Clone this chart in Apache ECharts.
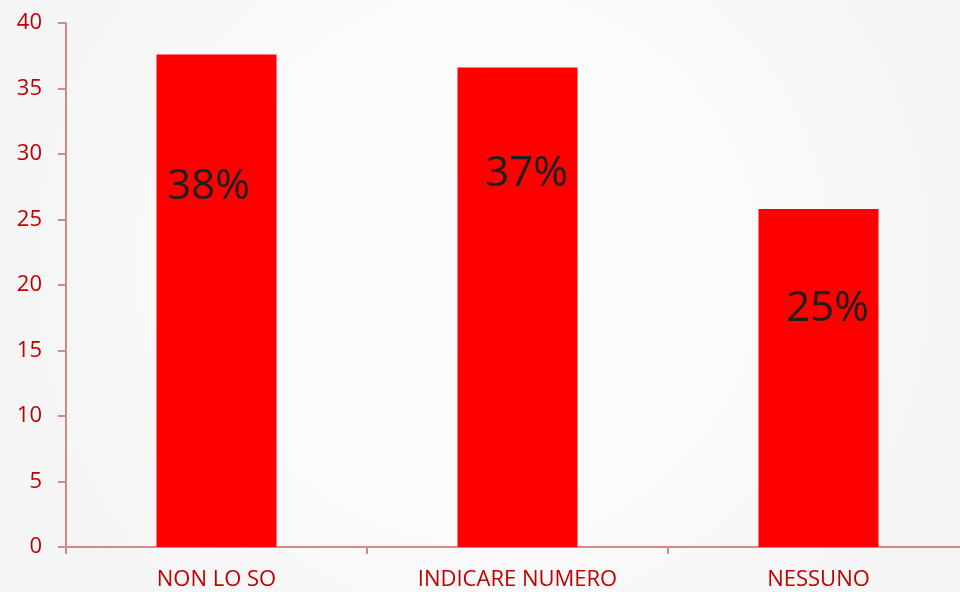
<!DOCTYPE html>
<html>
<head>
<meta charset="utf-8">
<script src="https://cdn.jsdelivr.net/npm/echarts@6/dist/echarts.min.js"></script>
<style>
  html, body { margin: 0; padding: 0; overflow: hidden; }
  #chart { width: 969px; height: 592px; }
</style>
</head>
<body>
<div id="chart"></div>
<script>
// dati del grafico
var categories = ['NON LO SO', 'INDICARE NUMERO', 'NESSUNO'];
var values = [37.6, 36.6, 25.8];
var percentLabels = ['38%', '37%', '25%'];
var yTicks = { min: 0, max: 40, interval: 5 };

// posizione delle etichette dentro le barre (stile, non dati)
var labelOffsets = [[-8, 112], [9, 85], [9, 79]];

var myChart = echarts.init(document.getElementById('chart'));

var axisColor = '#D08A8A';
var textColor = '#C00000';

var seriesData = values.map(function (v, i) {
    return {
        value: v,
        label: {
            show: true,
            position: 'insideTop',
            distance: 0,
            offset: labelOffsets[i],
            formatter: percentLabels[i]
        }
    };
});

myChart.setOption({
    backgroundColor: {
        type: 'radial', x: 0.5, y: 0.45, r: 0.8,
        colorStops: [
            { offset: 0, color: '#FDFDFD' },
            { offset: 0.6, color: '#FAFAFA' },
            { offset: 1, color: '#F5F5F5' }
        ]
    },
    animation: false,
    grid: { left: 66, top: 23, right: 0, bottom: 45 },
    xAxis: {
        type: 'category',
        data: categories,
        axisLine: { lineStyle: { color: axisColor, width: 2 } },
        axisTick: { show: true, alignWithLabel: false, length: 7, lineStyle: { color: axisColor, width: 2 } },
        axisLabel: { color: textColor, fontFamily: 'Open Sans', fontSize: 22, margin: 22 }
    },
    yAxis: {
        type: 'value',
        min: yTicks.min,
        max: yTicks.max,
        interval: yTicks.interval,
        splitLine: { show: false },
        axisLine: { show: true, lineStyle: { color: axisColor, width: 2 } },
        axisTick: { show: true, length: 8, lineStyle: { color: axisColor, width: 2 } },
        axisLabel: { color: textColor, fontFamily: 'Open Sans', fontSize: 22, margin: 24 }
    },
    series: [{
        type: 'bar',
        data: seriesData,
        barWidth: 120,
        itemStyle: { color: '#FF0000' },
        label: {
            color: '#1F1F1F',
            fontFamily: 'Open Sans',
            fontSize: 42
        }
    }]
});
</script>
</body>
</html>
